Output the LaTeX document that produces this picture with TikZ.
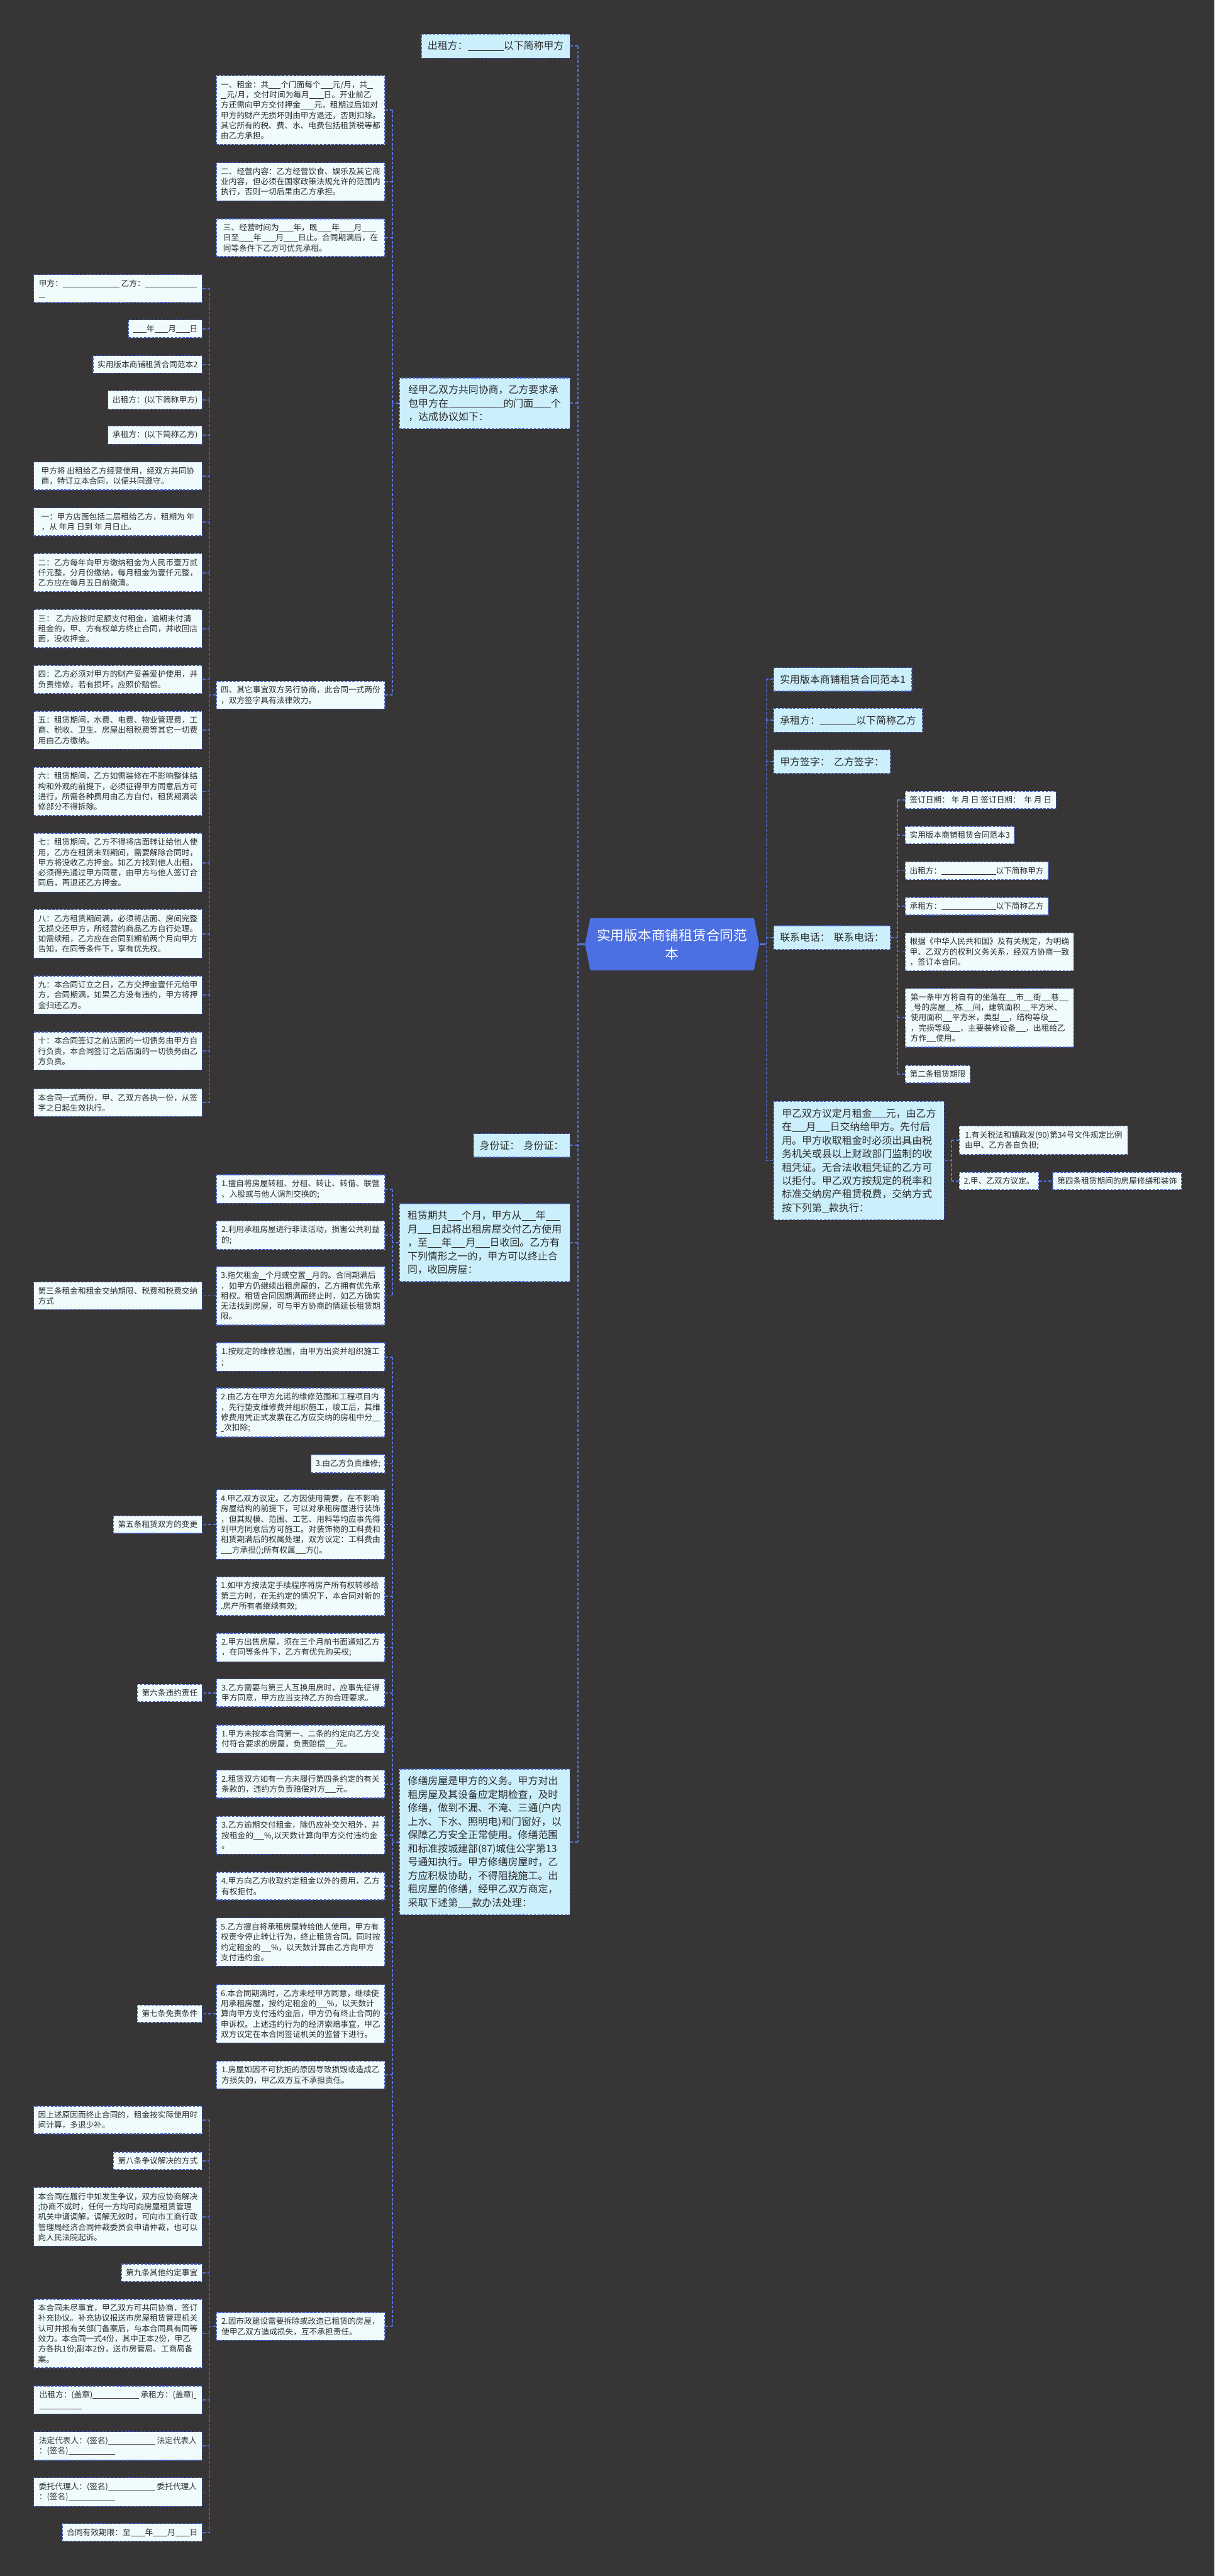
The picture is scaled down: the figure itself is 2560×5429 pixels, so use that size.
\documentclass[tikz,border=0pt]{standalone}
\usepackage{fontspec}
\setmainfont{Noto Sans CJK SC}
\usepackage{xcolor}
\usepackage{tikz}
\definecolor{bgdark}{RGB}{55,53,54}
\definecolor{rootblue}{RGB}{76,111,225}
\definecolor{linkblue}{RGB}{84,116,222}
\definecolor{boxline}{RGB}{66,96,196}
\definecolor{fillone}{RGB}{204,239,252}
\definecolor{filltwo}{RGB}{240,251,254}
\definecolor{txt}{RGB}{45,45,45}
\newcommand{\fsroot}{\fontsize{8.2pt}{10.9pt}\selectfont}
\newcommand{\fsone}{\fontsize{6pt}{8.1pt}\selectfont}
\newcommand{\fstwo}{\fontsize{4.78pt}{6.15pt}\selectfont}
\newcommand{\blk}[1]{\rule[-0.12em]{#1em}{0.055em}}

\begin{document}
\begin{tikzpicture}[x=0.01cm, y=-0.01cm,
  rootbox/.style={text=white, font=\fsroot, align=center, minimum width=3.67cm,
                  minimum height=1.09cm, inner sep=0pt},
  box/.style={draw=boxline, dash pattern=on 1.4pt off 0.9pt, line width=0.5pt,
              text=txt, align=left},
  lvone/.style={box, fill=fillone, font=\fsone, inner xsep=0.13cm, inner ysep=0.15cm},
  lvtwo/.style={box, fill=filltwo, font=\fstwo, inner xsep=0.095cm, inner ysep=0.105cm},
  fullone/.style={lvone, minimum width=3.59cm, inner xsep=0.11cm},
  fulltwo/.style={lvtwo, minimum width=3.55cm},
  link/.style={draw=linkblue, line width=0.7pt, dash pattern=on 1.7pt off 1.1pt},
  rootlink/.style={draw=linkblue, line width=1.1pt}]

  \fill[bgdark] (0,0) rectangle (2560,5429);
  \useasboundingbox (0,0) rectangle (2560,5429);

  % trunks
  \coordinate (tl) at (1218,0);
  \coordinate (tr) at (1615,0);
  \coordinate (tm) at (827,0);
  \coordinate (tf) at (442,0);
  \coordinate (tc) at (1891,0);
  \coordinate (tz) at (2005,0);

  % root
  \fill[rootblue] (1244,1935) -- (1589,1935) -- (1600,1990) -- (1589,2045)
    -- (1244,2045) -- (1233,1990) -- cycle;
  \node[rootbox] (root) at (1416.5,1990) {实用版本商铺租赁合同范\\本};

  % left, first level
  \node[lvone, anchor=east] (chuzu) at (1202,97) {出租方：\blk{3.6}以下简称甲方};
  \node[fullone, anchor=east] (jingjia) at (1202,850) {经甲乙双方共同协商，乙方要求承\\包甲方在\blk{5.5}的门面\blk{1.75}个\\，达成协议如下：};
  \node[lvone, anchor=east] (shenfen) at (1202,2414) {身份证：\hspace{0.4em}身份证：};
  \node[fullone, anchor=east] (zulin) at (1202,2619) {租赁期共\blk{1.4}个月，甲方从\blk{1.4}年\blk{1.4}\\月\blk{1.4}日起将出租房屋交付乙方使用\\，至\blk{1.4}年\blk{1.4}月\blk{1.4}日收回。乙方有\\下列情形之一的，甲方可以终止合\\同，收回房屋：};
  \node[fullone, anchor=east] (xiushan) at (1202,3882) {修缮房屋是甲方的义务。甲方对出\\租房屋及其设备应定期检查，及时\\修缮，做到不漏、不淹、三通(户内\\上水、下水、照明电)和门窗好，以\\保障乙方安全正常使用。修缮范围\\和标准按城建部(87)城住公字第13\\号通知执行。甲方修缮房屋时，乙\\方应积极协助，不得阻挠施工。出\\租房屋的修缮，经甲乙双方商定，\\采取下述第\blk{1.4}款办法处理：};

  % under jingjia
  \node[fulltwo, anchor=east] (zujin) at (812,232) {一、租金：共\blk{1.5}个门面每个\blk{1.5}元/月，共\blk{0.7}\\\blk{0.7}元/月，交付时间为每月\blk{1.8}日。开业前乙\\方还需向甲方交付押金\blk{1.7}元，租期过后如对\\甲方的财产无损坏则由甲方退还，否则扣除。\\其它所有的税、费、水、电费包括租赁税等都\\由乙方承担。};
  \node[fulltwo, anchor=east] (jingying) at (812,383) {二、经营内容：乙方经营饮食、娱乐及其它商\\业内容，但必须在国家政策法规允许的范围内\\执行，否则一切后果由乙方承担。};
  \node[fulltwo, anchor=east] (shijian) at (812,501) {三、经营时间为\blk{1.8}年，既\blk{1.8}年\blk{1.8}月\blk{1.8}\\日至\blk{1.8}年\blk{1.8}月\blk{1.8}日止。合同期满后，在\\同等条件下乙方可优先承租。};
  \node[fulltwo, anchor=east] (qita) at (812,1465) {四、其它事宜双方另行协商，此合同一式两份\\，双方签字具有法律效力。};

  % under qita
  \node[fulltwo, anchor=east] (jiayi) at (427,608) {甲方：\blk{7.1}\ 乙方：\blk{6.5}\\\blk{0.8}};
  \node[lvtwo, anchor=east] (riqi) at (427,693) {\blk{1.7}年\blk{1.7}月\blk{1.7}日};
  \node[lvtwo, anchor=east] (fan2) at (427,768) {实用版本商铺租赁合同范本2};
  \node[lvtwo, anchor=east] (chuzu2) at (427,843) {出租方：(以下简称甲方)};
  \node[lvtwo, anchor=east] (chengzu2) at (427,917) {承租方：(以下简称乙方)};
  \node[fulltwo, anchor=east] (jiafang) at (427,1003) {甲方将 出租给乙方经营使用，经双方共同协\\商，特订立本合同，以便共同遵守。};
  \node[fulltwo, anchor=east] (t1) at (427,1100) {一：甲方店面包括二层租给乙方，租期为 年\\，从 年月 日到 年 月日止。};
  \node[fulltwo, anchor=east] (t2) at (427,1207) {二：乙方每年向甲方缴纳租金为人民币壹万贰\\仟元整，分月份缴纳，每月租金为壹仟元整，\\乙方应在每月五日前缴清。};
  \node[fulltwo, anchor=east] (t3) at (427,1325) {三：\ 乙方应按时足额支付租金，逾期未付清\\租金的，甲、方有权单方终止合同，并收回店\\面，没收押金。};
  \node[fulltwo, anchor=east] (t4) at (427,1432) {四：乙方必须对甲方的财产妥善爱护使用，并\\负责维修，若有损坏，应照价赔偿。};
  \node[fulltwo, anchor=east] (t5) at (427,1539) {五：租赁期间，水费、电费、物业管理费，工\\商、税收、卫生、房屋出租税费等其它一切费\\用由乙方缴纳。};
  \node[fulltwo, anchor=east] (t6) at (427,1668) {六：租赁期间，乙方如需装修在不影响整体结\\构和外观的前提下，必须征得甲方同意后方可\\进行，所需各种费用由乙方自付，租赁期满装\\修部分不得拆除。};
  \node[fulltwo, anchor=east] (t7) at (427,1818) {七：租赁期间，乙方不得将店面转让给他人使\\用，乙方在租赁未到期间，需要解除合同时，\\甲方将没收乙方押金。如乙方找到他人出租，\\必须得先通过甲方同意，由甲方与他人签订合\\同后，再退还乙方押金。};
  \node[fulltwo, anchor=east] (t8) at (427,1968) {八：乙方租赁期间满，必须将店面、房间完整\\无损交还甲方，所经营的商品乙方自行处理。\\如需续租，乙方应在合同到期前两个月向甲方\\告知，在同等条件下，享有优先权。};
  \node[fulltwo, anchor=east] (t9) at (427,2097) {九：本合同订立之日，乙方交押金壹仟元给甲\\方，合同期满，如果乙方没有违约，甲方将押\\金归还乙方。};
  \node[fulltwo, anchor=east] (t10) at (427,2215) {十：本合同签订之前店面的一切债务由甲方自\\行负责，本合同签订之后店面的一切债务由乙\\方负责。};
  \node[fulltwo, anchor=east] (yishi) at (427,2324) {本合同一式两份，甲、乙双方各执一份，从签\\字之日起生效执行。};

  % under zulin
  \node[fulltwo, anchor=east] (s1) at (812,2506) {1.擅自将房屋转租、分租、转让、转借、联营\\、入股或与他人调剂交换的;};
  \node[fulltwo, anchor=east] (s2) at (812,2603) {2.利用承租房屋进行非法活动，损害公共利益\\的;};
  \node[fulltwo, anchor=east] (s3) at (812,2731) {3.拖欠租金\blk{0.8}个月或空置\blk{0.8}月的。合同期满后\\，如甲方仍继续出租房屋的，乙方拥有优先承\\租权。租赁合同因期满而终止时，如乙方确实\\无法找到房屋，可与甲方协商酌情延长租赁期\\限。};
  \node[fulltwo, anchor=east] (disan) at (427,2731) {第三条租金和租金交纳期限、税费和税费交纳\\方式};

  % under xiushan
  \node[fulltwo, anchor=east] (w1) at (812,2860) {1.按规定的维修范围，由甲方出资并组织施工\\;};
  \node[fulltwo, anchor=east] (w2) at (812,2977) {2.由乙方在甲方允诺的维修范围和工程项目内\\，先行垫支维修费并组织施工，竣工后，其维\\修费用凭正式发票在乙方应交纳的房租中分\blk{1}\\\blk{0.4}次扣除;};
  \node[lvtwo, anchor=east] (w3) at (812,3085) {3.由乙方负责维修;};
  \node[fulltwo, anchor=east] (w4) at (812,3213) {4.甲乙双方议定。乙方因使用需要，在不影响\\房屋结构的前提下，可以对承租房屋进行装饰\\，但其规模、范围、工艺、用料等均应事先得\\到甲方同意后方可施工。对装饰物的工料费和\\租赁期满后的权属处理，双方议定：工料费由\\\blk{1.4}方承担();所有权属\blk{1.3}方()。};
  \node[lvtwo, anchor=east] (diwu) at (427,3213) {第五条租赁双方的变更};
  \node[fulltwo, anchor=east] (b1) at (812,3364) {1.如甲方按法定手续程序将房产所有权转移给\\第三方时，在无约定的情况下，本合同对新的\\.房产所有者继续有效;};
  \node[fulltwo, anchor=east] (b2) at (812,3472) {2.甲方出售房屋，须在三个月前书面通知乙方\\，在同等条件下，乙方有优先购买权;};
  \node[fulltwo, anchor=east] (b3) at (812,3568) {3.乙方需要与第三人互换用房时，应事先征得\\甲方同意，甲方应当支持乙方的合理要求。};
  \node[lvtwo, anchor=east] (diliu) at (427,3568) {第六条违约责任};
  \node[fulltwo, anchor=east] (v1) at (812,3665) {1.甲方未按本合同第一、二条的约定向乙方交\\付符合要求的房屋，负责赔偿\blk{1.35}元。};
  \node[fulltwo, anchor=east] (v2) at (812,3760) {2.租赁双方如有一方未履行第四条约定的有关\\条款的，违约方负责赔偿对方\blk{1.35}元。};
  \node[fulltwo, anchor=east] (v3) at (812,3868) {3.乙方逾期交付租金，除仍应补交欠租外，并\\按租金的\blk{1.35}\%,以天数计算向甲方交付违约金\\。};
  \node[fulltwo, anchor=east] (v4) at (812,3975) {4.甲方向乙方收取约定租金以外的费用，乙方\\有权拒付。};
  \node[fulltwo, anchor=east] (v5) at (812,4093) {5.乙方擅自将承租房屋转给他人使用，甲方有\\权责令停止转让行为，终止租赁合同。同时按\\约定租金的\blk{1.3}\%，以天数计算由乙方向甲方\\支付违约金。};
  \node[fulltwo, anchor=east] (v6) at (812,4244) {6.本合同期满时，乙方未经甲方同意，继续使\\用承租房屋，按约定租金的\blk{1.3}\%，以天数计\\算向甲方支付违约金后，甲方仍有终止合同的\\申诉权。上述违约行为的经济索赔事宜，甲乙\\双方议定在本合同签证机关的监督下进行。};
  \node[lvtwo, anchor=east] (diqi) at (427,4244) {第七条免责条件};
  \node[fulltwo, anchor=east] (m1) at (812,4373) {1.房屋如因不可抗拒的原因导致损毁或造成乙\\方损失的，甲乙双方互不承担责任。};
  \node[fulltwo, anchor=east] (m2) at (812,4903) {2.因市政建设需要拆除或改造已租赁的房屋，\\使甲乙双方造成损失，互不承担责任。};

  % under m2
  \node[fulltwo, anchor=east] (yin) at (427,4468) {因上述原因而终止合同的，租金按实际使用时\\间计算，多退少补。};
  \node[lvtwo, anchor=east] (di8) at (427,4554) {第八条争议解决的方式};
  \node[fulltwo, anchor=east] (zhengyi) at (427,4672) {本合同在履行中如发生争议，双方应协商解决\\;协商不成时，任何一方均可向房屋租赁管理\\机关申请调解，调解无效时，可向市工商行政\\管理局经济合同仲裁委员会申请仲裁，也可以\\向人民法院起诉。};
  \node[lvtwo, anchor=east] (di9) at (427,4790) {第九条其他约定事宜};
  \node[fulltwo, anchor=east] (weijin) at (427,4918) {本合同未尽事宜，甲乙双方可共同协商，签订\\补充协议。补充协议报送市房屋租赁管理机关\\认可并报有关部门备案后，与本合同具有同等\\效力。本合同一式4份，其中正本2份，甲乙\\方各执1份;副本2份，送市房管局、工商局备\\案。};
  \node[fulltwo, anchor=east] (gaizhang) at (427,5058) {出租方：(盖章)\blk{5.8}\ 承租方：(盖章)\blk{0.3}\\\blk{5.3}};
  \node[fulltwo, anchor=east] (fading) at (427,5155) {法定代表人：(签名)\blk{5.9}\ 法定代表人\\：(签名)\blk{5.9}};
  \node[fulltwo, anchor=east] (weituo) at (427,5252) {委托代理人：(签名)\blk{5.9}\ 委托代理人\\：(签名)\blk{5.9}};
  \node[lvtwo, anchor=east] (youxiao) at (427,5337) {合同有效期限：至\blk{1.8}年\blk{1.8}月\blk{1.8}日};

  % right, first level
  \node[lvone, anchor=west] (fan1) at (1630,1432) {实用版本商铺租赁合同范本1};
  \node[lvone, anchor=west] (chengzu) at (1630,1518) {承租方：\blk{3.6}以下简称乙方};
  \node[lvone, anchor=west] (qianzi) at (1630,1605) {甲方签字：\hspace{0.4em}乙方签字：};
  \node[lvone, anchor=west] (lianxi) at (1630,1976) {联系电话：\hspace{0.4em}联系电话：};
  \node[fullone, anchor=west] (yueyue) at (1630,2446) {甲乙双方议定月租金\blk{1.4}元，由乙方\\在\blk{1.4}月\blk{1.4}日交纳给甲方。先付后\\用。甲方收取租金时必须出具由税\\务机关或县以上财政部门监制的收\\租凭证。无合法收租凭证的乙方可\\以拒付。甲乙双方按规定的税率和\\标准交纳房产租赁税费，交纳方式\\按下列第\blk{0.7}款执行：};

  % under lianxi
  \node[lvtwo, anchor=west] (qd) at (1907,1686) {签订日期：\ 年\ 月\ 日\ 签订日期：\ \ 年\ 月\ 日};
  \node[lvtwo, anchor=west] (fan3) at (1907,1760) {实用版本商铺租赁合同范本3};
  \node[lvtwo, anchor=west] (chuzu3) at (1907,1835) {出租方：\blk{6.8}以下简称甲方};
  \node[lvtwo, anchor=west] (chengzu3) at (1907,1910) {承租方：\blk{6.8}以下简称乙方};
  \node[fulltwo, anchor=west] (genju) at (1907,2006) {根据《中华人民共和国》及有关规定，为明确\\甲、乙双方的权利义务关系，经双方协商一致\\，签订本合同。};
  \node[fulltwo, anchor=west] (diyi) at (1907,2145) {第一条甲方将自有的坐落在\blk{1.2}市\blk{1.2}街\blk{1.2}巷\blk{1.2}\\\blk{0.4}号的房屋\blk{1.2}栋\blk{1.2}间，建筑面积\blk{1.2}平方米、\\使用面积\blk{1.2}平方米，类型\blk{1.1}，结构等级\blk{1.2}\\，完损等级\blk{1.2}，主要装修设备\blk{1.2}，出租给乙\\方作\blk{1.2}使用。};
  \node[lvtwo, anchor=west] (di2) at (1907,2264) {第二条租赁期限};

  % under yueyue
  \node[fulltwo, anchor=west] (shui) at (2021,2403) {1.有关税法和镇政发(90)第34号文件规定比例\\由甲、乙方各自负担;};
  \node[lvtwo, anchor=west] (yid) at (2021,2489) {2.甲、乙双方议定。};
  \node[lvtwo, anchor=west] (di4) at (2218,2489) {第四条租赁期间的房屋修缮和装饰};

  % connectors: root
  \draw[rootlink] (root.west) -- (root.west -| tl);
  \draw[link] (chuzu.east -| tl) -- (xiushan.east -| tl);
  \foreach \n in {chuzu,jingjia,shenfen,zulin,xiushan}
    \draw[link] (\n.east) -- (\n.east -| tl);
  \draw[rootlink] (root.east) -- (root.east -| tr);
  \draw[link] (fan1.west -| tr) -- (yueyue.west -| tr);
  \foreach \n in {fan1,chengzu,qianzi,lianxi,yueyue}
    \draw[link] (\n.west) -- (\n.west -| tr);

  % jingjia
  \draw[link] (jingjia.west) -- (jingjia.west -| tm);
  \draw[link] (zujin.east -| tm) -- (qita.east -| tm);
  \foreach \n in {zujin,jingying,shijian,qita}
    \draw[link] (\n.east) -- (\n.east -| tm);

  % qita
  \draw[link] (qita.west) -- (qita.west -| tf);
  \draw[link] (jiayi.east -| tf) -- (yishi.east -| tf);
  \foreach \n in {jiayi,riqi,fan2,chuzu2,chengzu2,jiafang,t1,t2,t3,t4,t5,t6,t7,t8,t9,t10,yishi}
    \draw[link] (\n.east) -- (\n.east -| tf);

  % zulin
  \draw[link] (zulin.west) -- (zulin.west -| tm);
  \draw[link] (s1.east -| tm) -- (s3.east -| tm);
  \foreach \n in {s1,s2,s3}
    \draw[link] (\n.east) -- (\n.east -| tm);

  % xiushan
  \draw[link] (xiushan.west) -- (xiushan.west -| tm);
  \draw[link] (w1.east -| tm) -- (m2.east -| tm);
  \foreach \n in {w1,w2,w3,w4,b1,b2,b3,v1,v2,v3,v4,v5,v6,m1,m2}
    \draw[link] (\n.east) -- (\n.east -| tm);

  % single children on the far left
  \draw[link] (s3.west) -- (s3.west -| disan.east);
  \draw[link] (w4.west) -- (w4.west -| diwu.east);
  \draw[link] (b3.west) -- (b3.west -| diliu.east);
  \draw[link] (v6.west) -- (v6.west -| diqi.east);

  % m2
  \draw[link] (m2.west) -- (m2.west -| tf);
  \draw[link] (yin.east -| tf) -- (youxiao.east -| tf);
  \foreach \n in {yin,di8,zhengyi,di9,weijin,gaizhang,fading,weituo,youxiao}
    \draw[link] (\n.east) -- (\n.east -| tf);

  % lianxi
  \draw[link] (lianxi.east) -- (lianxi.east -| tc);
  \draw[link] (qd.west -| tc) -- (di2.west -| tc);
  \foreach \n in {qd,fan3,chuzu3,chengzu3,genju,diyi,di2}
    \draw[link] (\n.west) -- (\n.west -| tc);

  % yueyue
  \draw[link] (yueyue.east) -- (yueyue.east -| tz);
  \draw[link] (shui.west -| tz) -- (yid.west -| tz);
  \foreach \n in {shui,yid}
    \draw[link] (\n.west) -- (\n.west -| tz);
  \draw[link] (yid.east) -- (di4.west);
\end{tikzpicture}
\end{document}
